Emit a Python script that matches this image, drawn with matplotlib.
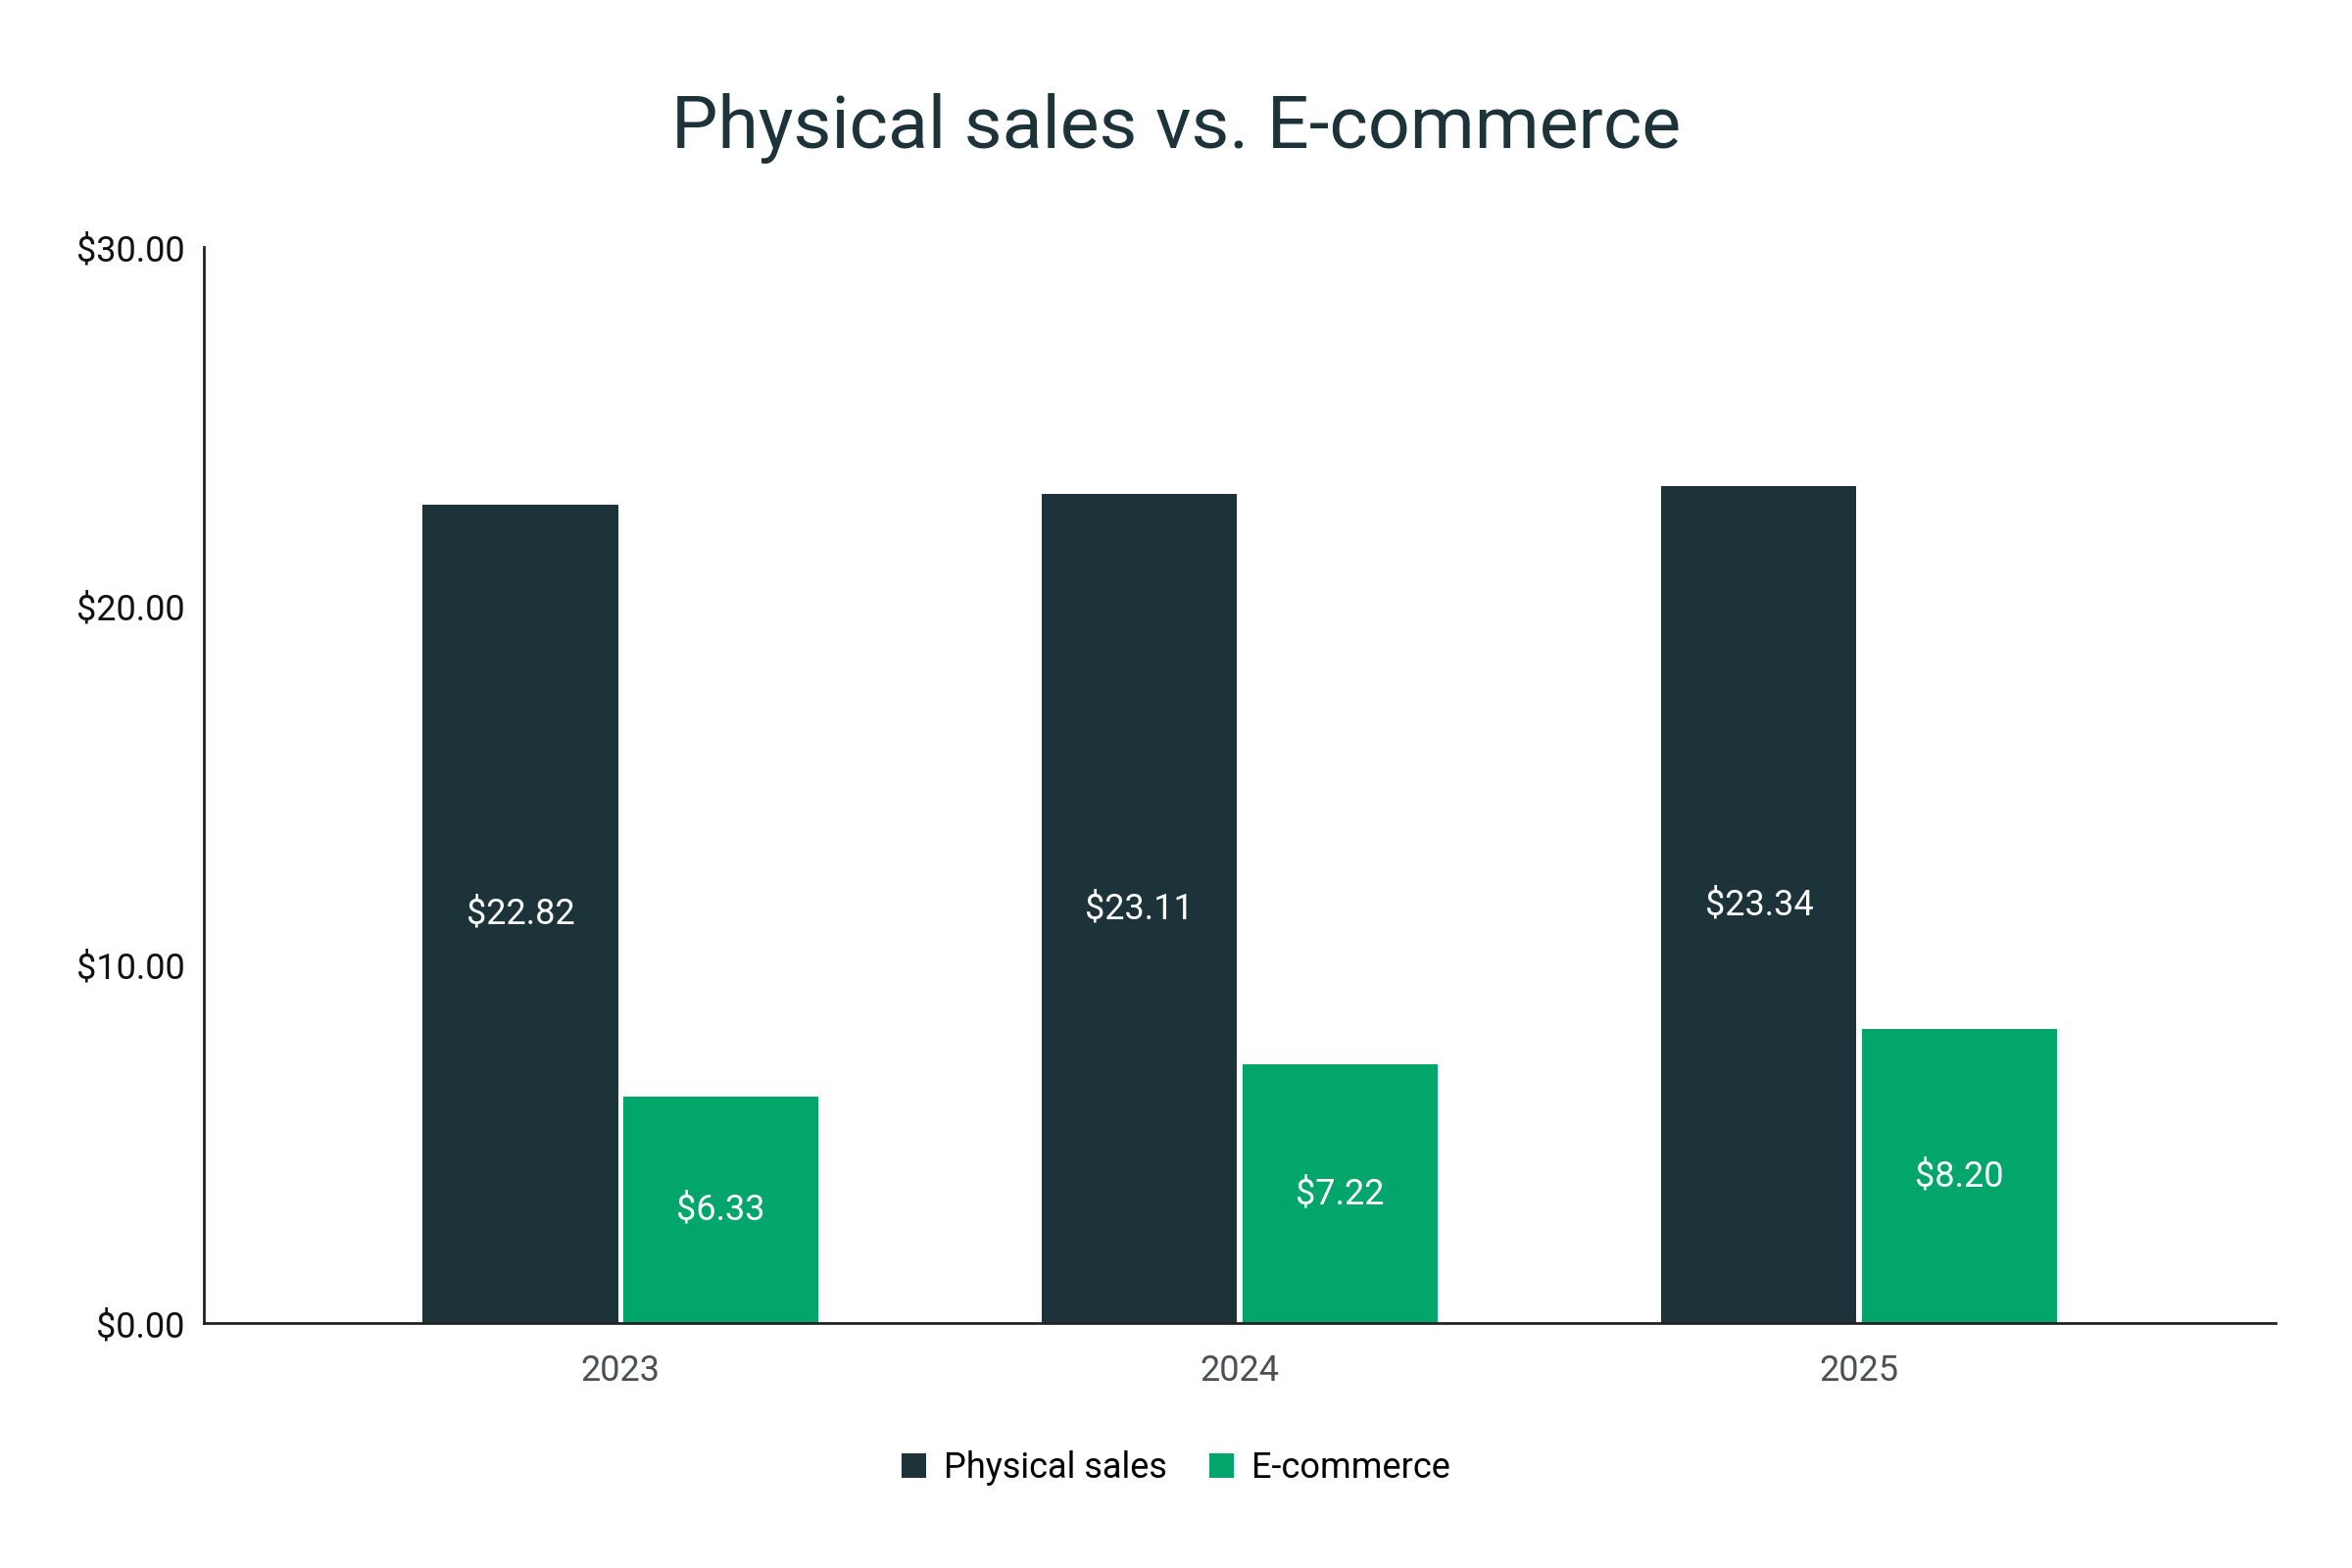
import matplotlib
matplotlib.use("Agg")
import matplotlib.pyplot as plt
import numpy as np
from matplotlib.ticker import FuncFormatter

plt.rcParams['font.family'] = ['Roboto', 'DejaVu Sans']

years = ["2023", "2024", "2025"]
physical = [22.82, 23.11, 23.34]
ecommerce = [6.33, 7.22, 8.20]
series_names = ["Physical sales", "E-commerce"]
colors = ["#1C333A", "#02A56A"]

fig = plt.figure(figsize=(12, 8), dpi=200)
ax = fig.add_axes([0.0867, 0.156, 0.881, 0.6865])

x = np.arange(len(years))
w = 0.315
off = 0.162
b1 = ax.bar(x - off, physical, w, color=colors[0], label=series_names[0])
b2 = ax.bar(x + off, ecommerce, w, color=colors[1], label=series_names[1])

for bars, vals in ((b1, physical), (b2, ecommerce)):
    for r, v in zip(bars, vals):
        ax.text(r.get_x() + r.get_width() / 2, v / 2, f"${v:.2f}",
                ha='center', va='center', color='white', fontsize=13)

ax.set_xlim(-0.673, 2.673)
ax.set_ylim(0, 30)
ax.set_yticks([0, 10, 20, 30])
ax.yaxis.set_major_formatter(FuncFormatter(lambda v, p: f"${v:.2f}"))
ax.set_xticks(x)
ax.set_xticklabels(years)
ax.tick_params(axis='y', length=0, pad=7, labelsize=13, labelcolor='#111111')
ax.tick_params(axis='x', length=0, pad=11, labelsize=13, labelcolor='#4a5056')
for s in ['top', 'right']:
    ax.spines[s].set_visible(False)
for s in ['left', 'bottom']:
    ax.spines[s].set_color('#222222')
    ax.spines[s].set_linewidth(1.0)

fig.text(0.5, 0.918, "Physical sales vs. E-commerce", ha='center', va='center',
         fontsize=27.1, color='#1C333A')

fig.legend(handles=[b1, b2], labels=series_names, loc='center',
           bbox_to_anchor=(0.5, 0.0637), ncol=2, frameon=False,
           fontsize=13, handlelength=0.7, handleheight=0.7,
           handletextpad=0.5, columnspacing=1.2)

fig.savefig("out.png", dpi=200, facecolor='white')
